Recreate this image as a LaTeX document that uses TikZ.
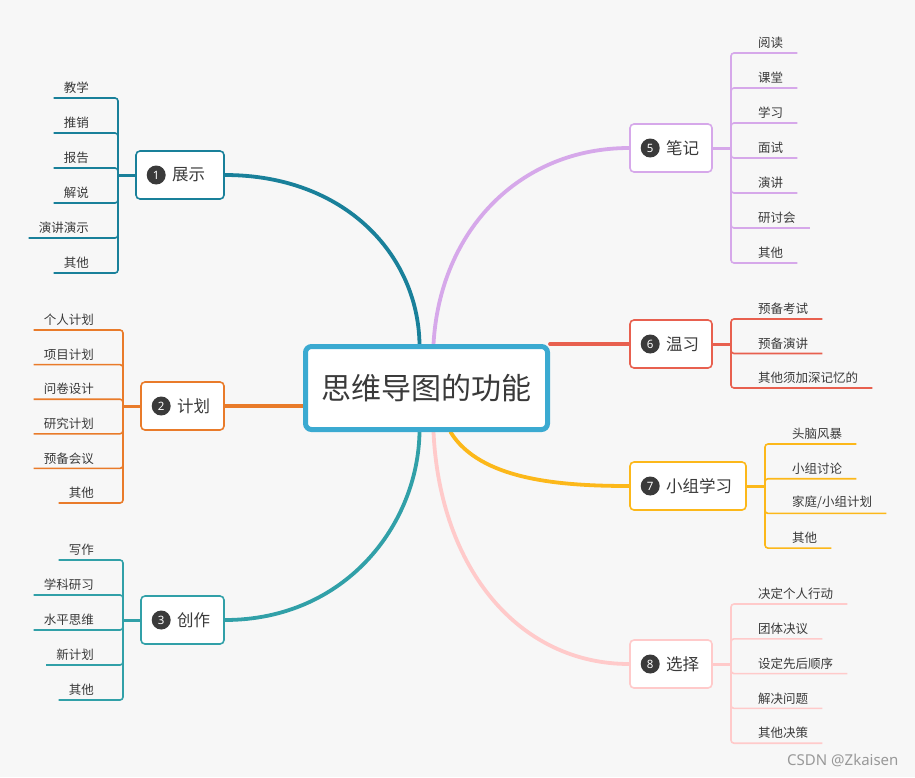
\documentclass[tikz,border=0pt]{standalone}
\usepackage{fontspec}
\setmainfont{Noto Sans CJK SC}
\newfontfamily\latinsans{Noto Sans}
\usetikzlibrary{positioning, calc, backgrounds}

\definecolor{bgc}{HTML}{F7F7F7}
\definecolor{txt}{HTML}{3A3A3A}
\definecolor{cmain}{HTML}{3BAAD1}
\definecolor{cone}{HTML}{19809A}
\definecolor{ctwo}{HTML}{E97B2A}
\definecolor{cthree}{HTML}{31A0A8}
\definecolor{cfive}{HTML}{D6A8EA}
\definecolor{csix}{HTML}{E8604F}
\definecolor{cseven}{HTML}{FCB81A}
\definecolor{ceight}{HTML}{FFCACA}

\begin{document}
\begin{tikzpicture}[
    x=1pt, y=-1pt,
    mainbox/.style={draw=cmain, line width=5pt, rounded corners=6pt, fill=white, minimum width=242pt, minimum height=83pt, text=txt, font=\fontsize{30}{34}\selectfont},
    branchbox/.style={draw=#1, line width=1.6pt, rounded corners=4pt, fill=white, minimum height=48pt},
    numdot/.style={circle, fill=txt, text=white, inner sep=0pt, minimum size=19pt, font=\latinsans\fontsize{11.5}{12}\selectfont},
    btext/.style={text=txt, inner sep=0pt, font=\fontsize{16.5}{18}\selectfont},
    leaf/.style={text=txt, inner xsep=10pt, inner ysep=4pt, font=\fontsize{12.5}{14}\selectfont},
    branch/.style={draw=#1, line width=3.8pt, line cap=round},
    stem/.style={draw=#1, line width=3pt},
    twig/.style={draw=#1, line width=1.6pt, rounded corners=3pt}
]
    % centre
    \node[mainbox] (center) at (426.5,388) {思维导图的功能};

    % branch boxes
    \node[branchbox=cone, minimum width=88pt] (b1) at (180,175) {};
    \node[numdot] (n1) at ([xshift=21]b1.west) {1};
    \node[btext, right=6pt of n1] (t1) {展示};

    \node[branchbox=ctwo, minimum width=83pt] (b2) at (182.5,406) {};
    \node[numdot] (n2) at ([xshift=21]b2.west) {2};
    \node[btext, right=6pt of n2] (t2) {计划};

    \node[branchbox=cthree, minimum width=83pt] (b3) at (182.5,620) {};
    \node[numdot] (n3) at ([xshift=21]b3.west) {3};
    \node[btext, right=6pt of n3] (t3) {创作};

    \node[branchbox=cfive, minimum width=82pt] (b5) at (671,148) {};
    \node[numdot] (n5) at ([xshift=21]b5.west) {5};
    \node[btext, right=6pt of n5] (t5) {笔记};

    \node[branchbox=csix, minimum width=82pt] (b6) at (671,344) {};
    \node[numdot] (n6) at ([xshift=21]b6.west) {6};
    \node[btext, right=6pt of n6] (t6) {温习};

    \node[branchbox=cseven, minimum width=116pt] (b7) at (688,486) {};
    \node[numdot] (n7) at ([xshift=21]b7.west) {7};
    \node[btext, right=6pt of n7] (t7) {小组学习};

    \node[branchbox=ceight, minimum width=82pt] (b8) at (671,664) {};
    \node[numdot] (n8) at ([xshift=21]b8.west) {8};
    \node[btext, right=6pt of n8] (t8) {选择};

    % background and main curves
    \begin{scope}[on background layer]
        \fill[bgc] (0,0) rectangle (915,777);
        \draw[branch=cone] (b1.east) .. controls (345,175) and (418,255) .. ([xshift=-7]center.north);
        \draw[branch=ctwo] (b2.east) -- (b2.east -| center.west);
        \draw[branch=cthree] (b3.east) .. controls (345,620) and (418,525) .. ([xshift=-7]center.south);
        \draw[branch=cfive] ([xshift=7]center.north) .. controls (440,230) and (520,148) .. (b5.west);
        \draw[branch=csix] (center.east |- b6.west) -- (b6.west);
        \draw[branch=cseven] ([xshift=24]center.south) .. controls (480,480) and (560,486) .. (b7.west);
        \draw[branch=ceight] ([xshift=7]center.south) .. controls (440,570) and (520,664) .. (b8.west);
    \end{scope}
    \useasboundingbox (0,0) rectangle (915,777);

    % bus junctions
    \coordinate (j1) at (118,175);
    \coordinate (j2) at (123,406);
    \coordinate (j3) at (123,620);
    \coordinate (j5) at (731,148);
    \coordinate (j6) at (731,344);
    \coordinate (j7) at (765,486);
    \coordinate (j8) at (731,664);
    \draw[stem=cone] (b1.west) -- (j1);
    \draw[stem=ctwo] (b2.west) -- (j2);
    \draw[stem=cthree] (b3.west) -- (j3);
    \draw[stem=cfive] (b5.east) -- (j5);
    \draw[stem=csix] (b6.east) -- (j6);
    \draw[stem=cseven] (b7.east) -- (j7);
    \draw[stem=ceight] (b8.east) -- (j8);

    % leaves
    \foreach \t [count=\i] in {教学,推销,报告,解说,演讲演示,其他} {
        \node[leaf, anchor=south east] (l1-\i) at (99,{98+35*(\i-1)}) {\t};
        \draw[twig=cone] (j1) |- (l1-\i.south west);
    }
    \foreach \t [count=\i] in {个人计划,项目计划,问卷设计,研究计划,预备会议,其他} {
        \node[leaf, anchor=south east] (l2-\i) at (104,{330+34.6*(\i-1)}) {\t};
        \draw[twig=ctwo] (j2) |- (l2-\i.south west);
    }
    \foreach \t [count=\i] in {写作,学科研习,水平思维,新计划,其他} {
        \node[leaf, anchor=south east] (l3-\i) at (104,{560+35*(\i-1)}) {\t};
        \draw[twig=cthree] (j3) |- (l3-\i.south west);
    }
    \foreach \t [count=\i] in {阅读,课堂,学习,面试,演讲,研讨会,其他} {
        \node[leaf, anchor=south west, inner xsep=14pt] (l5-\i) at (744,{53+35*(\i-1)}) {\t};
        \draw[twig=cfive] (j5) |- (l5-\i.south east);
    }
    \foreach \t [count=\i] in {预备考试,预备演讲,其他须加深记忆的} {
        \node[leaf, anchor=south west, inner xsep=14pt] (l6-\i) at (744,{319+34.5*(\i-1)}) {\t};
        \draw[twig=csix] (j6) |- (l6-\i.south east);
    }
    \foreach \t [count=\i] in {头脑风暴,小组讨论,家庭/小组计划,其他} {
        \node[leaf, anchor=south west, inner xsep=14pt] (l7-\i) at (778,{444+34.7*(\i-1)}) {\t};
        \draw[twig=cseven] (j7) |- (l7-\i.south east);
    }
    \foreach \t [count=\i] in {决定个人行动,团体决议,设定先后顺序,解决问题,其他决策} {
        \node[leaf, anchor=south west, inner xsep=14pt] (l8-\i) at (744,{604+34.8*(\i-1)}) {\t};
        \draw[twig=ceight] (j8) |- (l8-\i.south east);
    }

    % watermark
    \node[text=black!40, font=\latinsans\fontsize{15}{17}\selectfont, anchor=east] (wm) at (902,760) {CSDN @Zkaisen};
\end{tikzpicture}
\end{document}
